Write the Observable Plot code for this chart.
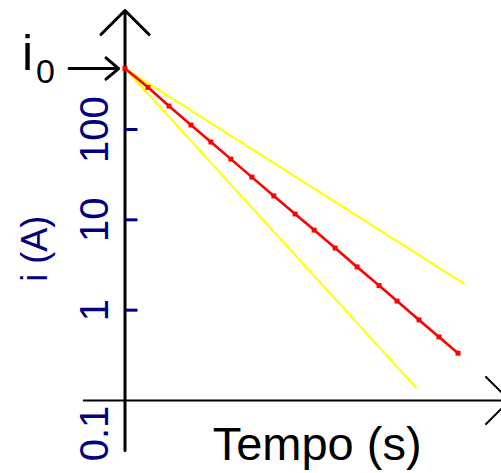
<!DOCTYPE html>
<html><head><meta charset="utf-8">
<script src="https://cdn.jsdelivr.net/npm/d3@7"></script>
<script src="https://cdn.jsdelivr.net/npm/@observablehq/plot@0.6"></script>
<style>body{margin:0;background:#fff} svg{display:block}</style>
</head><body><div id="chart"></div>
<script>
const redT = [0, 0.69, 1.32, 1.98, 2.58, 3.18, 3.81, 4.47, 5.11, 5.68, 6.31, 6.97, 7.63, 8.17, 8.83, 9.43, 10.0];
const redI = [473, 293, 182, 112, 72.7, 47.0, 29.7, 18.4, 11.6, 7.70, 4.87, 3.01, 1.87, 1.26, 0.78, 0.505, 0.334];
// Bounding (yellow) lines
const upperT = [0, 10.18];
const upperI = [473, 1.97];
const lowerT = [0, 8.74];
const lowerI = [473, 0.139];
// Axis texts
const tickValues = [1, 10, 100];
const tickLabels = ["1", "10", "100"];
const bottomTickValue = 0.1;
const bottomTickLabel = "0.1";
const yTitle = "i (A)";
const xTitle = "Tempo (s)";
const i0Value = 473;

const red = redT.map((t, k) => ({t, i: redI[k]}));
const upper = upperT.map((t, k) => ({t, i: upperI[k]}));
const lower = lowerT.map((t, k) => ({t, i: lowerI[k]}));
const ticks = tickValues.map((v, k) => ({v, label: tickLabels[k]}));

const navy = "#000080";
const font = "'Liberation Sans', Arial, sans-serif";

const chart = Plot.plot({
  width: 501,
  height: 473,
  margin: 0,
  style: {fontFamily: font, background: "white"},
  x: {domain: [0, 10], range: [124.5, 457.5], axis: null},
  y: {type: "log", domain: [0.1, 100], range: [400, 129], axis: null},
  marks: [
    // axes with arrowheads
    Plot.arrow([0], {x1: -1.24, x2: 11.55, y1: 0.1, y2: 0.1, stroke: "black", strokeWidth: 2, headAngle: 90, headLength: 25}),
    Plot.arrow([0], {x1: 0, x2: 0, y1: 0.02795, y2: 2076, stroke: "black", strokeWidth: 3, headAngle: 90, headLength: 17}),
    // tick marks
    Plot.ruleY(ticks, {y: "v", x1: 0, x2: 0.39, stroke: navy, strokeWidth: 3}),
    // tick labels
    Plot.text(ticks, {y: "v", x: -0.9, text: "label", rotate: -90, fill: navy, fontSize: 40, textAnchor: "middle", lineAnchor: "middle"}),
    Plot.text([bottomTickLabel], {y: bottomTickValue, x: -0.9, text: d => d, rotate: -90, fill: navy, fontSize: 40, textAnchor: "middle", lineAnchor: "middle", dy: 33}),
    // y title
    Plot.text([yTitle], {x: -2.69, y: 4.8, text: d => d, rotate: -90, fill: navy, fontSize: 36, textAnchor: "middle", lineAnchor: "middle"}),
    // x title
    Plot.text([xTitle], {x: 5.77, y: 0.0217, text: d => d, fill: "black", fontSize: 47, textAnchor: "middle", lineAnchor: "bottom"}),
    // i0 label and arrow
    Plot.text(["i"], {x: -2.93, y: 450, text: d => d, fill: "black", fontSize: 50, textAnchor: "middle", lineAnchor: "bottom"}),
    Plot.text(["0"], {x: -2.39, y: 331, text: d => d, fill: "black", fontSize: 34, textAnchor: "middle", lineAnchor: "bottom"}),
    Plot.arrow([0], {x1: -1.68, x2: -0.19, y1: i0Value, y2: i0Value, stroke: "black", strokeWidth: 3, headAngle: 80, headLength: 11}),
    // data lines
    Plot.line(upper, {x: "t", y: "i", stroke: "#ffff00", strokeWidth: 2}),
    Plot.line(lower, {x: "t", y: "i", stroke: "#ffff00", strokeWidth: 2}),
    Plot.line(red, {x: "t", y: "i", stroke: "#ff0000", strokeWidth: 2.6}),
    Plot.dot(red, {x: "t", y: "i", symbol: "square", r: 2.8, fill: "#ff0000", stroke: "none"})
  ]
});
document.getElementById("chart").appendChild(chart);
</script>
</body></html>
